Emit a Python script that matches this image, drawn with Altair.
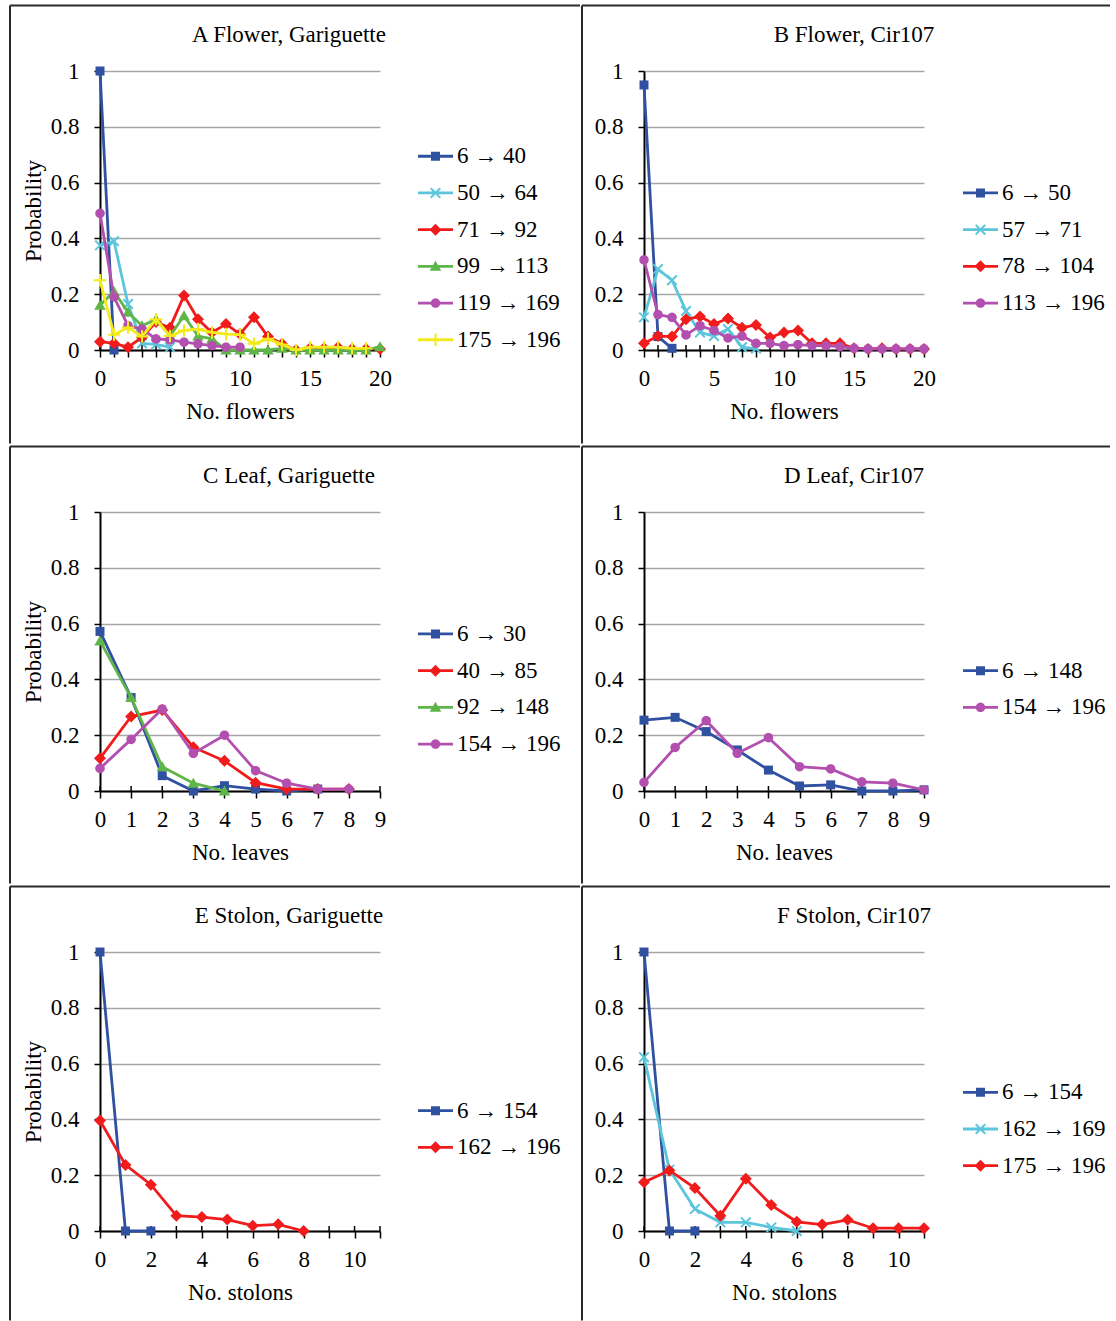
import math
import altair as alt
import pandas as pd

FONT = "Liberation Serif"
FS = 23

# ---------------- data ----------------
# Panel A  Flower, Gariguette  (x = No. flowers, 0..20)
a_labels = ["6 → 40", "50 → 64", "71 → 92", "99 → 113", "119 → 169", "175 → 196"]
a_6_40 = [1.0, 0.0]
a_50_64 = [0.375, 0.39, 0.165, 0.024, 0.02, 0.01]
a_71_92 = [0.03, 0.024, 0.01, 0.045, 0.10, 0.08, 0.195, 0.11, 0.063, 0.093, 0.057,
           0.117, 0.048, 0.022, 0.0, 0.006, 0.006, 0.01, 0.004, 0.004, 0.004]
a_99_113 = [0.16, 0.21, 0.135, 0.087, 0.11, 0.05, 0.123, 0.05, 0.04, 0.0, 0.0,
            0.0, 0.0, 0.006, 0.0, 0.0, 0.0, 0.0, 0.0, 0.0, 0.012]
a_119_169 = [0.49, 0.19, 0.087, 0.075, 0.04, 0.036, 0.028, 0.022, 0.016, 0.01, 0.01]
a_175_196 = [0.25, 0.055, 0.081, 0.048, 0.11, 0.05, 0.07, 0.075, 0.063, 0.057, 0.055,
             0.022, 0.04, 0.02, 0.0, 0.01, 0.01, 0.01, 0.006, 0.006]

# Panel B  Flower, Cir107
b_labels = ["6 → 50", "57 → 71", "78 → 104", "113 → 196"]
b_6_50 = [0.95, 0.048, 0.006]
b_57_71 = [0.117, 0.29, 0.25, 0.14, 0.063, 0.05, 0.075, 0.01, 0.005]
b_78_104 = [0.024, 0.05, 0.048, 0.11, 0.12, 0.093, 0.113, 0.08, 0.09, 0.045, 0.063,
            0.07, 0.024, 0.024, 0.024, 0.006, 0.004, 0.006, 0.004, 0.004, 0.004]
b_113_196 = [0.323, 0.127, 0.117, 0.054, 0.087, 0.07, 0.043, 0.05, 0.024, 0.024, 0.016,
             0.019, 0.016, 0.016, 0.012, 0.006, 0.004, 0.004, 0.004, 0.004, 0.004]

# Panel C  Leaf, Gariguette
c_labels = ["6 → 30", "40 → 85", "92 → 148", "154 → 196"]
c_6_30 = [0.572, 0.335, 0.055, 0.0, 0.019, 0.007, 0.0, 0.007]
c_40_85 = [0.117, 0.267, 0.29, 0.157, 0.108, 0.03, 0.007, 0.007, 0.007]
c_92_148 = [0.538, 0.335, 0.087, 0.028, 0.0]
c_154_196 = [0.081, 0.185, 0.294, 0.135, 0.2, 0.073, 0.028, 0.007, 0.007]

# Panel D  Leaf, Cir107
d_labels = ["6 → 148", "154 → 196"]
d_6_148 = [0.254, 0.264, 0.213, 0.147, 0.075, 0.018, 0.022, 0.0, 0.0, 0.004]
d_154_196 = [0.031, 0.156, 0.252, 0.135, 0.191, 0.087, 0.079, 0.033, 0.028, 0.004]

# Panel E  Stolon, Gariguette
e_labels = ["6 → 154", "162 → 196"]
e_6_154 = [1.0, 0.0, 0.0]
e_162_196 = [0.396, 0.237, 0.166, 0.055, 0.05, 0.041, 0.019, 0.024, 0.0]

# Panel F  Stolon, Cir107
f_labels = ["6 → 154", "162 → 169", "175 → 196"]
f_6_154 = [1.0, 0.0, 0.0]
f_162_169 = [0.623, 0.22, 0.079, 0.031, 0.031, 0.013, 0.0]
f_175_196 = [0.175, 0.217, 0.154, 0.055, 0.187, 0.093, 0.033, 0.023, 0.04, 0.01, 0.01, 0.01]

# ---------------- styles ----------------
COLORS = {"blue": "#3050A0", "cyan": "#5BC5DC", "red": "#F01C1C",
          "green": "#5EB548", "magenta": "#B24FAF", "yellow": "#F2EA1C"}


def poly(pts, s=1.0):
    return "M" + "L".join(f"{x * s:.3f},{y * s:.3f}" for x, y in pts) + "Z"


def plus_pts(r, t):
    return [(-t, -r), (t, -r), (t, -t), (r, -t), (r, t), (t, t), (t, r), (-t, r),
            (-t, t), (-r, t), (-r, -t), (-t, -t)]


def rot45(pts):
    c = math.sqrt(0.5)
    return [((x - y) * c, (x + y) * c) for x, y in pts]


MARKERS = {
    "blue": [(-0.9, -0.9), (0.9, -0.9), (0.9, 0.9), (-0.9, 0.9)],
    "cyan": rot45(plus_pts(1.35, 0.2)),
    "red": [(0, -1.2), (1.2, 0), (0, 1.2), (-1.2, 0)],
    "green": [(0, -1.1), (1.15, 0.9), (-1.15, 0.9)],
    "magenta": [(0.95 * math.cos(2 * math.pi * k / 24), 0.95 * math.sin(2 * math.pi * k / 24))
                for k in range(24)],
    "yellow": plus_pts(1.25, 0.2),
}

POINT_SIZE = 100           # 5 px per path unit
LEG_PX = 35                # legend symbol box width
LEG_SIZE = LEG_PX * LEG_PX
LEG_SCALE = 5.0 / (LEG_PX / 2.0)
BAR = poly([(-1, -0.08), (1, -0.08), (1, 0.08), (-1, 0.08)])


def legend_path(style):
    return BAR + poly(MARKERS[style], LEG_SCALE)


PANELS = [
    dict(title="A Flower, Gariguette", labels=a_labels,
         series=[a_6_40, a_50_64, a_71_92, a_99_113, a_119_169, a_175_196],
         styles=["blue", "cyan", "red", "green", "magenta", "yellow"],
         xtitle="No. flowers", xmax=20, step=5, col=0, row=0),
    dict(title="B Flower, Cir107", labels=b_labels,
         series=[b_6_50, b_57_71, b_78_104, b_113_196],
         styles=["blue", "cyan", "red", "magenta"],
         xtitle="No. flowers", xmax=20, step=5, col=1, row=0),
    dict(title="C Leaf, Gariguette", labels=c_labels,
         series=[c_6_30, c_40_85, c_92_148, c_154_196],
         styles=["blue", "red", "green", "magenta"],
         xtitle="No. leaves", xmax=9, step=1, col=0, row=1),
    dict(title="D Leaf, Cir107", labels=d_labels,
         series=[d_6_148, d_154_196],
         styles=["blue", "magenta"],
         xtitle="No. leaves", xmax=9, step=1, col=1, row=1),
    dict(title="E Stolon, Gariguette", labels=e_labels,
         series=[e_6_154, e_162_196],
         styles=["blue", "red"],
         xtitle="No. stolons", xmax=11, step=2, col=0, row=2),
    dict(title="F Stolon, Cir107", labels=f_labels,
         series=[f_6_154, f_162_169, f_175_196],
         styles=["blue", "cyan", "red"],
         xtitle="No. stolons", xmax=11, step=2, col=1, row=2),
]

PW, PH = 280, 279
T = 66.5
ROW_H = [440, 439, 436]
COL_W = [572, 530]
COL_L = [91, 63]
ROW_STEP = 36.7
ENTRY_H = 30.0
LEG_CENTER = 174.5


def make_panel(p):
    col = p["col"]
    L = COL_L[col]
    W = COL_W[col]
    H = ROW_H[p["row"]]
    rows = []
    for lab, vals in zip(p["labels"], p["series"]):
        for i, v in enumerate(vals):
            rows.append({"series": lab, "x": i, "y": v})
    df = pd.DataFrame(rows)
    colors = [COLORS[s] for s in p["styles"]]
    leg_shapes = [legend_path(s) for s in p["styles"]]
    n = len(p["labels"])

    legend = alt.Legend(
        orient="none", legendX=318 if col == 0 else 319,
        legendY=LEG_CENTER - (n - 1) * ROW_STEP / 2 - ENTRY_H / 2, title=None,
        symbolSize=LEG_SIZE, symbolStrokeWidth=0, symbolOpacity=1,
        rowPadding=ROW_STEP - ENTRY_H,
        labelFont=FONT, labelFontSize=FS, labelColor="black", labelOffset=4,
        labelLimit=400, padding=0,
    )

    step = p["step"]
    xaxis = alt.Axis(
        values=list(range(p["xmax"] + 1)),
        labelExpr=f"datum.value % {step} === 0 ? datum.label : ''",
        format="d", grid=False, tickSize=7, tickWidth=1.5, tickColor="black",
        domainColor="black", domainWidth=2, labelPadding=10, labelFlush=False,
        labelOverlap=False, title=p["xtitle"], titleX=PW / 2, titleY=68.5,
        titleAlign="center", titleBaseline="alphabetic",
    )
    yaxis = alt.Axis(
        values=[0, 0.2, 0.4, 0.6, 0.8, 1], format="~g", grid=True,
        gridColor="#A6A6A6", gridWidth=1.5, tickSize=6, tickWidth=1.5,
        tickColor="black", domainColor="black", domainWidth=2, labelPadding=15,
        title="Probability" if col == 0 else None,
        titleX=-67, titleY=PH / 2, titleAngle=-90, titleAlign="center",
        titleBaseline="middle",
    )

    x = alt.X("x:Q", scale=alt.Scale(domain=[0, p["xmax"]], nice=False, zero=False), axis=xaxis)
    y = alt.Y("y:Q", scale=alt.Scale(domain=[0, 1], nice=False), axis=yaxis)

    base = alt.Chart(df)
    layers = []
    one = alt.Chart(pd.DataFrame({"k": [0]}))
    # panel frame (cell extent + left/top separator lines)
    layers.append(one.mark_rect(opacity=0).encode(
        x=alt.value(-L), x2=alt.value(W - L), y=alt.value(-T), y2=alt.value(H - T)))
    layers.append(one.mark_rule(color="#2a2a2a", strokeWidth=2).encode(
        x=alt.value(-L + 1), y=alt.value(-T + 1), y2=alt.value(H - T - 1)))
    layers.append(one.mark_rule(color="#2a2a2a", strokeWidth=2).encode(
        x=alt.value(-L + 1), x2=alt.value(W - L - 1), y=alt.value(-T + 1)))
    # panel title
    layers.append(one.mark_text(font=FONT, fontSize=FS, color="black", align="center",
                                baseline="alphabetic").encode(
        x=alt.value(PW / 2 + (49 if col == 0 else 70)), y=alt.value(-29.5),
        text=alt.value(p["title"])))
    # inner half of the "cross" x-axis tick marks (Excel style)
    ticks = alt.Chart(pd.DataFrame({"x": list(range(p["xmax"] + 1))}))
    layers.append(ticks.mark_rule(color="black", strokeWidth=1.5).encode(
        x=x, y=alt.value(PH), y2=alt.value(PH - 5)))

    for lab, sty in zip(p["labels"], p["styles"]):
        sub = base.transform_filter(alt.datum.series == lab)
        layers.append(sub.mark_line(color=COLORS[sty], strokeWidth=2.8).encode(
            x=x, y=y, order="x:Q"))
        layers.append(sub.mark_point(shape=poly(MARKERS[sty]), color=COLORS[sty], filled=True,
                                     size=POINT_SIZE, opacity=1, strokeWidth=0).encode(x=x, y=y))

    # invisible layer that only carries the legend (line + marker symbols)
    layers.append(base.mark_point(filled=True, opacity=0).encode(
        x=x, y=y,
        color=alt.Color("series:N", scale=alt.Scale(domain=p["labels"], range=colors),
                        legend=legend, sort=p["labels"]),
        shape=alt.Shape("series:N", scale=alt.Scale(domain=p["labels"], range=leg_shapes),
                        legend=legend, sort=p["labels"]),
    ))

    return alt.layer(*layers).properties(width=PW, height=PH)


charts = [make_panel(p) for p in PANELS]
rows = [alt.hconcat(charts[i], charts[i + 1], spacing=0).resolve_scale(
    color="independent", shape="independent") for i in (0, 2, 4)]

chart = alt.vconcat(*rows, spacing=0).resolve_scale(
    color="independent", shape="independent"
).properties(
    padding={"left": 9, "top": 4, "right": 0, "bottom": 0},
    background="white",
).configure_view(stroke=None).configure_axis(
    labelFont=FONT, labelFontSize=FS, labelColor="black",
    titleFont=FONT, titleFontSize=FS, titleColor="black", titleFontWeight="normal",
).configure_legend(labelFont=FONT)

chart.save("out.html", embed_options={"renderer": "svg", "actions": False})
